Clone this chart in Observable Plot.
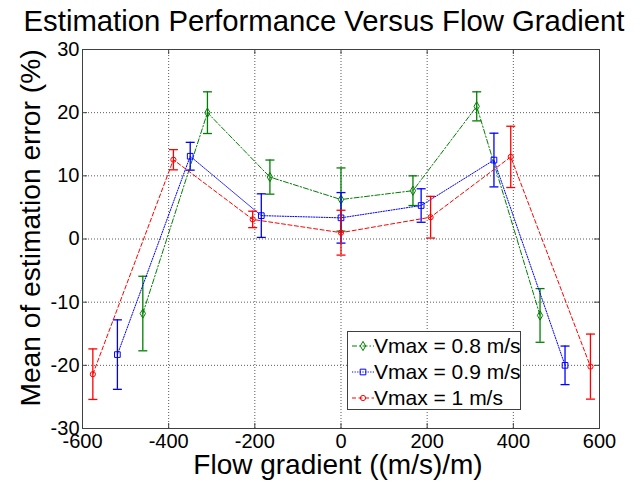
<!DOCTYPE html>
<html>
<head>
<meta charset="utf-8">
<script src="https://cdn.jsdelivr.net/npm/d3@7"></script>
<script src="https://cdn.jsdelivr.net/npm/@observablehq/plot@0.6"></script>
<style>
  html, body { margin: 0; padding: 0; background: #fff; }
  #wrap { position: relative; width: 642px; height: 485px; font-family: "Liberation Sans", Arial, sans-serif; }
  #legend { position: absolute; left: 347px; top: 331px; width: 174px; height: 79px; border: 1px solid #404040; background: #fff; box-sizing: border-box; }
  .row { position: absolute; left: 0; height: 26px; display: flex; align-items: center; font-size: 21px; color: #000; white-space: nowrap; }
  .row svg { margin-left: 4px; margin-right: 0px; }
</style>
</head>
<body>
<div id="wrap"></div>
<script>
const title = "Estimation Performance Versus Flow Gradient";
const xLabel = "Flow gradient ((m/s)/m)";
const yLabel = "Mean of estimation error (%)";
const xTicks = [-600, -400, -200, 0, 200, 400, 600];
const yTicks = [-30, -20, -10, 0, 10, 20, 30];

const seriesNames = ["Vmax = 0.8 m/s", "Vmax = 0.9 m/s", "Vmax = 1 m/s"];
const seriesColors = ["#008000", "#0000ff", "#ff0000"];

const xGreen = [-460, -310, -165, 0, 167, 315, 462];
const meanGreen = [-11.8, 20.0, 9.8, 6.25, 7.65, 21.0, -12.1];
const errGreen = [5.9, 3.3, 2.7, 5.0, 2.35, 2.3, 4.25];

const xBlue = [-519, -350, -185, 0, 186, 355, 520];
const meanBlue = [-18.3, 13.1, 3.7, 3.35, 5.3, 12.5, -20.0];
const errBlue = [5.5, 2.2, 3.45, 4.0, 2.65, 4.25, 3.05];

const xRed = [-576, -389, -205, 0, 208, 394, 579];
const meanRed = [-21.4, 12.55, 3.1, 1.0, 3.45, 13.0, -20.2];
const errRed = [4.0, 1.6, 1.3, 3.55, 3.3, 4.85, 5.15];

function build(xs, ms, es) {
  return xs.map((x, i) => ({x, y: ms[i], lo: ms[i] - es[i], hi: ms[i] + es[i]}));
}
const series = [
  {data: build(xGreen, meanGreen, errGreen), color: seriesColors[0], dash: "5,2,1.5,2", symbol: "diamond", r: 2.8},
  {data: build(xBlue, meanBlue, errBlue), color: seriesColors[1], dash: "1.2,1.4", symbol: "square", r: 3.2},
  {data: build(xRed, meanRed, errRed), color: seriesColors[2], dash: "4,2.5", symbol: "circle", r: 2.6}
];

const cap = { draw(ctx, size) { const w = Math.sqrt(size / Math.PI); ctx.moveTo(-w, 0); ctx.lineTo(w, 0); } };
const fmt = d => String(d);

const marks = [
  Plot.gridX(xTicks, {stroke: "#000", strokeOpacity: 0.65, strokeDasharray: "1,2"}),
  Plot.gridY(yTicks, {stroke: "#000", strokeOpacity: 0.65, strokeDasharray: "1,2"}),
  Plot.tickX(xTicks, {x: d => d, insetBottom: 374, stroke: "#404040"}),
  Plot.tickX(xTicks, {x: d => d, insetTop: 374, stroke: "#404040"}),
  Plot.tickY(yTicks, {y: d => d, insetRight: 512, stroke: "#404040"}),
  Plot.tickY(yTicks, {y: d => d, insetLeft: 512, stroke: "#404040"}),
  Plot.frame({stroke: "#404040"}),
  Plot.axisX(xTicks, {tickSize: 0, tickPadding: 5, fontSize: 20, label: null, tickFormat: fmt}),
  Plot.axisY(yTicks, {tickSize: 0, tickPadding: 3, fontSize: 20, label: null, tickFormat: fmt})
];
for (const s of series) {
  marks.push(Plot.line(s.data, {x: "x", y: "y", stroke: s.color, strokeWidth: 1, strokeDasharray: s.dash}));
  marks.push(Plot.ruleX(s.data, {x: "x", y1: "lo", y2: "hi", stroke: s.color, strokeWidth: 1.3}));
  marks.push(Plot.dot(s.data, {x: "x", y: "hi", symbol: cap, r: 4.5, stroke: s.color, strokeWidth: 1.3}));
  marks.push(Plot.dot(s.data, {x: "x", y: "lo", symbol: cap, r: 4.5, stroke: s.color, strokeWidth: 1.3}));
  marks.push(Plot.dot(s.data, {x: "x", y: "y", symbol: s.symbol, r: s.r, stroke: s.color, fill: "none", strokeWidth: 1}));
}
marks.push(Plot.text([title], {frameAnchor: "top", textAnchor: "middle", lineAnchor: "middle", dx: -17, dy: -28, fontSize: 29.3, fill: "#000"}));
marks.push(Plot.text([xLabel], {frameAnchor: "bottom", textAnchor: "middle", lineAnchor: "middle", dx: -3, dy: 37, fontSize: 28, fill: "#000"}));
marks.push(Plot.text([yLabel], {x: () => -600, y: () => 0, textAnchor: "middle", lineAnchor: "middle", dx: -52, dy: -11, rotate: -90, fontSize: 28.2, fill: "#000"}));

const chart = Plot.plot({
  width: 642,
  height: 485,
  marginLeft: 82,
  marginRight: 43,
  marginTop: 49,
  marginBottom: 57,
  x: {domain: [-600, 600]},
  y: {domain: [-30, 30]},
  style: {fontFamily: "Liberation Sans, Arial, sans-serif", color: "#000", background: "#fff"},
  marks
});
const wrap = document.getElementById("wrap");
wrap.appendChild(chart);

const legend = document.createElement("div");
legend.id = "legend";
series.forEach((s, i) => {
  const row = document.createElement("div");
  row.className = "row";
  row.style.top = (1 + i * 26) + "px";
  const ns = "http://www.w3.org/2000/svg";
  const svg = document.createElementNS(ns, "svg");
  svg.setAttribute("width", 22); svg.setAttribute("height", 14);
  const ln = document.createElementNS(ns, "line");
  ln.setAttribute("x1", 0); ln.setAttribute("x2", 22); ln.setAttribute("y1", 7); ln.setAttribute("y2", 7);
  ln.setAttribute("stroke", s.color); ln.setAttribute("stroke-dasharray", s.dash);
  svg.appendChild(ln);
  const path = document.createElementNS(ns, "path");
  const sym = {diamond: d3.symbolDiamond, square: d3.symbolSquare, circle: d3.symbolCircle}[s.symbol];
  path.setAttribute("d", d3.symbol(sym, Math.PI * s.r * s.r)());
  path.setAttribute("transform", "translate(11,7)");
  path.setAttribute("fill", "none"); path.setAttribute("stroke", s.color);
  svg.appendChild(path);
  row.appendChild(svg);
  const t = document.createElement("span");
  t.textContent = seriesNames[i];
  row.appendChild(t);
  legend.appendChild(row);
});
wrap.appendChild(legend);
</script>
</body>
</html>
